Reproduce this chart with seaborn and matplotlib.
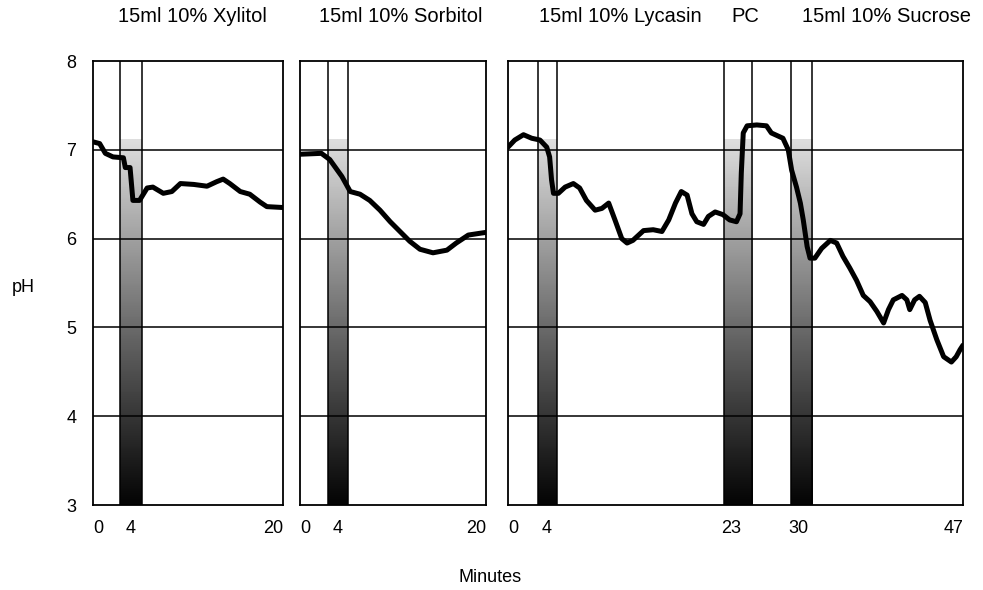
import numpy as np
import pandas as pd
import matplotlib
matplotlib.use("Agg")
import matplotlib.pyplot as plt
import seaborn as sns

# titles over the panels (text, x centre in pixels)
titles = ["15ml 10% Xylitol", "15ml 10% Sorbitol", "15ml 10% Lycasin", "PC", "15ml 10% Sucrose"]
title_x = [192, 401, 620, 745, 886]

# panel 1 - xylitol
xyl_min = [0, 0.7, 1.3, 2.1, 3.2, 3.4, 3.9, 4.2, 4.9, 5.7, 6.3, 7.4, 8.3, 9.2, 10.6, 12.0,
           13.0, 13.7, 14.4, 15.5, 16.5, 17.6, 18.3, 20]
xyl_ph = [7.09, 7.07, 6.96, 6.92, 6.91, 6.80, 6.80, 6.43, 6.43, 6.57, 6.58, 6.51, 6.53, 6.62,
          6.61, 6.59, 6.64, 6.67, 6.62, 6.53, 6.50, 6.41, 6.36, 6.35]

# panel 2 - sorbitol
sor_min = [0, 2.3, 3.2, 4.5, 5.4, 6.45, 7.5, 8.6, 9.7, 10.75, 11.8, 12.9, 14.3, 15.8, 16.8,
           18.1, 19.35, 20]
sor_ph = [6.95, 6.96, 6.89, 6.70, 6.53, 6.50, 6.43, 6.32, 6.19, 6.08, 5.97, 5.88, 5.84, 5.87,
          5.95, 6.04, 6.06, 6.07]

# panel 3 - lycasin, plaque control, sucrose
ly_min = [0, 0.7, 1.6, 2.45, 3.3, 4.0, 4.3, 4.5, 4.7, 5.2, 5.9, 6.75, 7.4, 8.1, 9.0, 9.7, 10.4,
          11.05, 11.75, 12.3, 12.9, 14.0, 15.0, 15.9, 16.6, 17.3, 17.9, 18.5, 19.0, 19.5, 20.2,
          20.7, 21.4, 22.2, 22.9, 23.6, 23.97, 24.1, 24.3, 24.7, 25.7, 26.7, 27.2, 27.8, 28.4,
          28.95, 29.3, 29.8, 30.2, 30.5, 30.9, 31.2, 31.7, 32.4, 33.3, 33.95, 34.6, 35.3, 36.0,
          36.7, 37.4, 38.1, 38.8, 39.3, 39.8, 40.7, 41.2, 41.5, 42.0, 42.5, 43.1, 43.6, 44.3,
          45.0, 45.8, 46.3, 46.7, 47]
ly_ph = [7.03, 7.11, 7.17, 7.13, 7.11, 7.03, 6.92, 6.66, 6.51, 6.51, 6.58, 6.62, 6.57, 6.43,
         6.32, 6.34, 6.40, 6.21, 6.00, 5.95, 5.98, 6.09, 6.10, 6.08, 6.21, 6.40, 6.53, 6.49,
         6.28, 6.19, 6.16, 6.25, 6.30, 6.27, 6.21, 6.19, 6.28, 6.74, 7.19, 7.27, 7.28, 7.27,
         7.19, 7.16, 7.13, 7.00, 6.77, 6.58, 6.40, 6.21, 5.91, 5.78, 5.78, 5.89, 5.98, 5.95,
         5.80, 5.67, 5.53, 5.36, 5.29, 5.18, 5.05, 5.20, 5.31, 5.36, 5.31, 5.20, 5.31, 5.35,
         5.28, 5.08, 4.86, 4.67, 4.61, 4.67, 4.75, 4.80]

# rinse periods (start, end minute)
xyl_bands = [(2.85, 5.15)]
sor_bands = [(3.0, 5.15)]
ly_bands = [(3.1, 5.05), (22.3, 25.2), (29.2, 31.4)]

xyl_ticks = [0, 4, 20]
sor_ticks = [0, 4, 20]
ly_ticks = [0, 4, 23, 30, 47]
ph_ticks = [3, 4, 5, 6, 7, 8]

sns.set_style("white")
plt.rcParams["font.family"] = ["Liberation Sans", "DejaVu Sans"]
plt.rcParams["text.color"] = "black"
plt.rcParams["xtick.color"] = "black"
plt.rcParams["ytick.color"] = "black"

W, H = 983, 590
fig = plt.figure(figsize=(W / 100, H / 100), dpi=100)

def px_axes(left, right, top=61, bottom=505):
    return fig.add_axes([left / W, 1 - bottom / H, (right - left) / W, (bottom - top) / H])

panels = [
    (px_axes(93, 283), xyl_min, xyl_ph, xyl_bands, xyl_ticks, 20),
    (px_axes(300, 486), sor_min, sor_ph, sor_bands, sor_ticks, 20),
    (px_axes(508, 963), ly_min, ly_ph, ly_bands, ly_ticks, 47),
]

# grey shading of the rinse bars: black at pH 3 fading to light grey near pH 7.1
grad = 0.02 + 0.85 * np.linspace(0, 1, 200) ** 1.05
grad = grad[:, None]

for i, (ax, mins, ph, bands, ticks, xmax) in enumerate(panels):
    for x0, x1 in bands:
        ax.imshow(grad, extent=[x0, x1, 3, 7.12], origin="lower", cmap="gray",
                  vmin=0, vmax=1, aspect="auto", zorder=0)
        ax.axvline(x0, color="black", lw=1.1, zorder=1)
        ax.axvline(x1, color="black", lw=1.1, zorder=1)
    for y in [4, 5, 6, 7]:
        ax.axhline(y, color="black", lw=1.1, zorder=1)
    df = pd.DataFrame({"min": mins, "ph": ph})
    sns.lineplot(data=df, x="min", y="ph", ax=ax, color="black", lw=3.6, zorder=3,
                 solid_joinstyle="round", solid_capstyle="round")
    ax.set_xlim(0, xmax)
    ax.set_ylim(3, 8)
    ax.set_xlabel("")
    ax.set_ylabel("")
    ax.set_xticks(ticks)
    ax.set_xticklabels([str(t) for t in ticks], fontsize=13)
    labs = ax.get_xticklabels()
    labs[0].set_ha("left")
    labs[-1].set_ha("right")
    ax.tick_params(axis="x", length=0, pad=11)
    if i == 0:
        ax.set_yticks(ph_ticks)
        ax.set_yticklabels([str(t) for t in ph_ticks], fontsize=13)
        ax.tick_params(axis="y", length=0, pad=12)
    else:
        ax.set_yticks([])
    for s in ax.spines.values():
        s.set_color("black")
        s.set_linewidth(1.3)

for t, x in zip(titles, title_x):
    fig.text(x / W, 1 - 17 / H, t, ha="center", va="center", fontsize=14.5)

fig.text(23 / W, 1 - 287 / H, "pH", ha="center", va="center", fontsize=13)
fig.text(490 / W, 1 - 577 / H, "Minutes", ha="center", va="center", fontsize=13)

fig.savefig("out.png", dpi=100)
